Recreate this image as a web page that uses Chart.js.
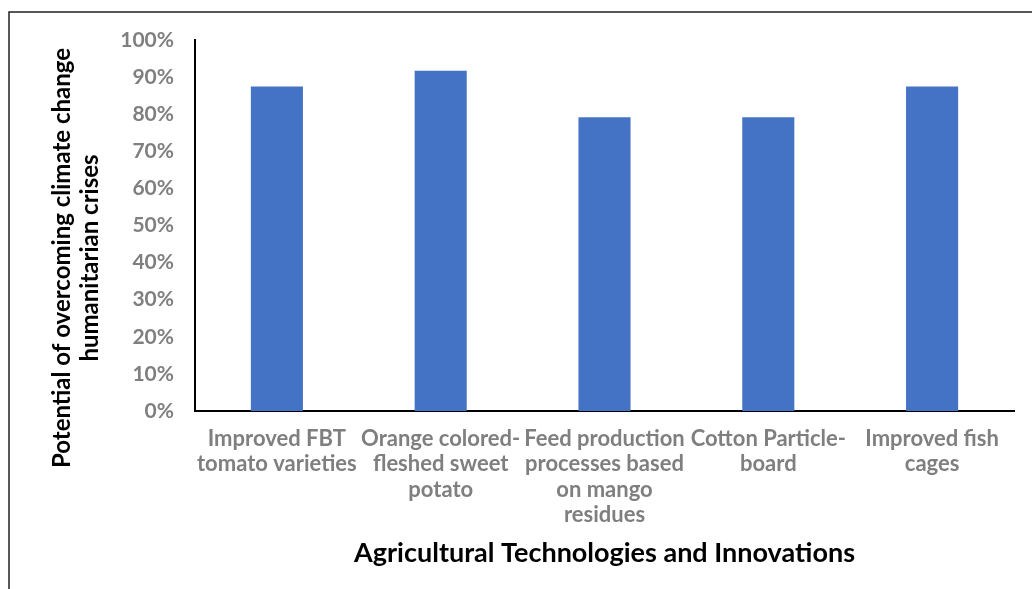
<!DOCTYPE html>
<html>
<head>
<meta charset="utf-8">
<script src="https://cdn.jsdelivr.net/npm/chart.js@4.4.1/dist/chart.umd.min.js"></script>
<style>
  html, body { margin: 0; padding: 0; background: #fff; }
  #wrap { width: 1032px; height: 589px; position: relative; }
</style>
</head>
<body>
<div id="wrap"><canvas id="potentialChart" width="1032" height="589"></canvas></div>
<script>
// Categories (pre-wrapped like the original axis labels)
const technologies = [
  ["Improved FBT", "tomato varieties"],
  ["Orange colored-", "fleshed sweet", "potato"],
  ["Feed production", "processes based", "on mango", "residues"],
  ["Cotton Particle-", "board"],
  ["Improved fish", "cages"]
];
// Potential of overcoming climate change humanitarian crises (%)
const potential = [87.5, 91.7, 79.2, 79.2, 87.5];

const yTitle = ["Potential of overcoming climate change", "humanitarian crises"];
const xTitle = "Agricultural Technologies and Innovations";

const FONT = "Lato, 'Open Sans', sans-serif";
const TICK_GREY = "#7f7f7f";

// frame lines at top and left like the source figure
const framePlugin = {
  id: "frame",
  afterDraw(chart) {
    const ctx = chart.ctx;
    ctx.save();
    ctx.strokeStyle = "#222";
    ctx.lineWidth = 1.5;
    ctx.beginPath();
    ctx.moveTo(9, 589);
    ctx.lineTo(9, 12);
    ctx.lineTo(1032, 12);
    ctx.stroke();

    // y axis title sits a bit below the plot centre in the original
    ctx.fillStyle = "#000";
    ctx.font = "bold 24px " + FONT;
    ctx.textAlign = "center";
    ctx.textBaseline = "middle";
    ctx.translate(62, 258);
    ctx.rotate(-Math.PI / 2);
    yTitle.forEach((line, i) => ctx.fillText(line, 0, i * 28));
    ctx.restore();
  }
};

function initChart() {
  const ctx = document.getElementById("potentialChart").getContext("2d");
  new Chart(ctx, {
    type: "bar",
    data: {
      labels: technologies,
      datasets: [{
        label: "Potential",
        data: potential,
        backgroundColor: "#4472c4",
        borderWidth: 0,
        barPercentage: 0.318,
        categoryPercentage: 1
      }]
    },
    options: {
      responsive: false,
      animation: false,
      layout: { padding: { left: 48, right: 18, top: 40, bottom: 0 } },
      plugins: { legend: { display: false }, tooltip: { enabled: false } },
      scales: {
        x: {
          grid: { display: false, drawTicks: false },
          border: { display: true, color: "#000", width: 2 },
          ticks: {
            color: TICK_GREY,
            font: { family: FONT, size: 22, weight: "bold", lineHeight: 1.16 },
            padding: 15,
            autoSkip: false,
            maxRotation: 0,
            minRotation: 0
          },
          title: {
            display: true,
            text: xTitle,
            color: "#000",
            font: { family: FONT, size: 27, weight: "bold", lineHeight: 1.2 },
            padding: { top: 0, bottom: 20 }
          },
          afterFit(scale) { scale.height = 589 - 411; }
        },
        y: {
          min: 0,
          max: 100,
          grid: { display: false, drawTicks: false },
          border: { display: true, color: "#000", width: 2 },
          ticks: {
            stepSize: 10,
            color: TICK_GREY,
            font: { family: FONT, size: 21, weight: "bold" },
            padding: 21,
            callback: (v) => v + "%"
          },
          afterFit(scale) { scale.width = 195 - 48; }
        }
      }
    },
    plugins: [framePlugin]
  });
}

window.onload = () => {
  initChart();
};
</script>
</body>
</html>
